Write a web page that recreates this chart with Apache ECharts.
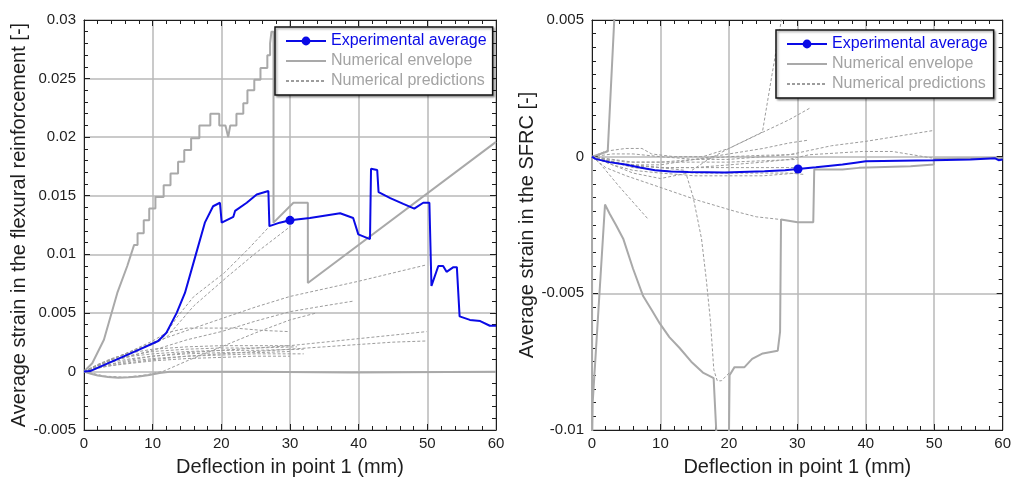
<!DOCTYPE html>
<html><head><meta charset="utf-8">
<script src="https://cdn.jsdelivr.net/npm/echarts@6/dist/echarts.min.js"></script>
<style>html,body{margin:0;padding:0;background:#fff}#c{width:1014px;height:482px}</style>
</head><body><div id="c"></div>
<script>
// ---------- Left panel: strain in flexural reinforcement ----------
const leftExp = [[0,0],[0.9,0.00003],[4.3,0.0009],[8.2,0.0019],[10.8,0.0026],[12,0.0033],[13.5,0.005],[14.7,0.0067],[16.2,0.0098],[17.6,0.0127],[18.8,0.0141],[19.8,0.0144],[20.05,0.0127],[21.75,0.0132],[22,0.0137],[23.7,0.0144],[25.15,0.0151],[26.85,0.0154],[27,0.0124],[28.5,0.0127],[30,0.0129],[32.9,0.0131],[37.3,0.0135],[39.2,0.0131],[39.95,0.0117],[41.65,0.0113],[41.8,0.0173],[42.7,0.0172],[42.9,0.0153],[44.6,0.0148],[46.5,0.0143],[48.1,0.0139],[49.4,0.0144],[50.3,0.0144],[50.6,0.0073],[51.6,0.009],[52.3,0.009],[52.8,0.0085],[53.8,0.0089],[54.3,0.0089],[54.7,0.0047],[56.2,0.0044],[57.7,0.0043],[59.1,0.0039],[60,0.0039]];
const leftEnvUpper = [[0,0],[1.2,0.0007],[2.9,0.0027],[4.85,0.0067],[6.3,0.009],[7.3,0.0108],[7.8,0.0108],[7.8,0.0118],[8.7,0.0118],[8.7,0.0129],[9.5,0.0129],[9.5,0.0139],[10.4,0.0139],[10.4,0.0149],[11.6,0.0149],[11.6,0.0159],[12.6,0.0159],[12.6,0.0169],[13.7,0.0169],[13.7,0.0179],[14.6,0.0179],[14.6,0.0189],[15.6,0.0189],[15.6,0.0199],[16.8,0.0199],[16.8,0.021],[18.4,0.021],[18.4,0.022],[19.7,0.022],[19.7,0.021],[20.6,0.021],[21.0,0.0200],[21.3,0.021],[22.2,0.021],[22.2,0.022],[23.2,0.022],[23.2,0.0229],[23.8,0.0229],[23.8,0.024],[24.8,0.024],[24.8,0.0249],[25.7,0.0249],[25.7,0.0259],[26.7,0.0259],[26.7,0.027],[27.1,0.027],[27.1,0.028],[27.3,0.028],[27.3,0.029],[27.6,0.029],[27.6,0.0127],[30.5,0.0144],[32.6,0.0144],[32.6,0.00755],[60,0.0196]];
const leftEnvLower = [[0,0],[1,-0.0002],[2,-0.00035],[3.5,-0.00048],[5,-0.00053],[6.5,-0.0005],[8,-0.00043],[9.5,-0.0003],[11,-0.00013],[12.5,-0.00003],[24.7,-0.00003],[24.7,-0.0001],[39,-0.0001],[39,-0.00002],[60,-0.00002]];
const leftPredA = [[0,0],[3,0.0008],[6,0.0015],[10,0.0024],[11.7,0.003],[13.5,0.0046],[16,0.0064],[20.4,0.0084],[24,0.0105],[27.2,0.0125]];
const leftPredB = [[0,0],[3,0.0008],[6,0.0015],[10,0.0023],[12,0.0029],[16,0.0056],[20.9,0.0081],[25,0.0101],[30.1,0.0124]];
const leftPredC = [[0,0],[3,0.0008],[6,0.0015],[10.2,0.0025],[15,0.0035],[20,0.0045],[25,0.0055],[30,0.0064],[40,0.0077],[49.9,0.0091]];
const leftPredD = [[0,0],[3,0.0008],[6,0.0015],[10,0.0026],[12,0.0033],[15,0.0037],[22,0.0037],[26,0.0035],[29.8,0.0034]];
const leftPredE = [[0,0],[3,0.0007],[6,0.0012],[10,0.0018],[15,0.0027],[20,0.0034],[25,0.0043],[30,0.0051],[35,0.0056],[39.2,0.006]];
const leftPredH = [[0,0],[3,-0.0004],[6,-0.0005],[9,-0.0003],[11.5,0],[15,0.0009],[20,0.0021],[25,0.0033],[30,0.0044],[33.9,0.005]];
const leftPredF = [[0,0],[3,0.0005],[6,0.0009],[10,0.0013],[15,0.0016],[20,0.0018],[25,0.002],[30,0.0022],[35,0.0025],[40,0.0028],[45,0.0031],[49.9,0.0034]];
const leftPredG = [[0,0],[3,0.0004],[6,0.0007],[10,0.001],[15,0.0013],[20,0.0015],[25,0.0017],[30,0.0019],[35,0.0021],[40,0.0023],[45,0.0025],[49.9,0.0026]];
const leftPredL1 = [[0,0],[2,0.0006],[4,0.0011],[7,0.0016],[10,0.0019],[15,0.0021],[20,0.0022],[25,0.0022],[30,0.0022]];
const leftPredL2 = [[0,0],[2,0.0005],[4,0.001],[7,0.0014],[10,0.0017],[15,0.0019],[20,0.002],[25,0.002],[31,0.0021]];
const leftPredL3 = [[0,0],[2,0.0005],[4,0.0009],[7,0.0013],[10,0.0015],[15,0.0017],[20,0.0018],[25,0.0018],[32,0.0019]];
const leftPredL4 = [[0,0],[2,0.0004],[4,0.0008],[7,0.0011],[10,0.0013],[15,0.0015],[20,0.0016],[25,0.0016],[30,0.0017]];
const leftPredL5 = [[0,0],[2,0.0003],[4,0.0006],[7,0.0009],[10,0.0011],[15,0.0013],[20,0.0014],[25,0.0015],[32,0.0015]];
const leftPredL6 = [[0,0],[2,0.0003],[4,0.0005],[7,0.0007],[10,0.0009],[15,0.0011],[20,0.0012],[25,0.0013],[30,0.0013]];

// ---------- Right panel: strain in SFRC ----------
const rightExp = [[0,0],[0.5,-0.00008],[2.5,-0.0002],[4.85,-0.00029],[7,-0.0004],[9.2,-0.0005],[11.5,-0.00054],[14.1,-0.00056],[19.4,-0.00058],[25.2,-0.00053],[28.2,-0.0005],[30.1,-0.00045],[32.7,-0.00039],[34.5,-0.00034],[36.6,-0.00029],[38.5,-0.00022],[40,-0.00017],[45,-0.00015],[49.9,-0.00013],[55.3,-0.0001],[55.5,-0.00006],[58.9,-0.00006],[59.4,-0.00013],[60,-0.0001]];
const rightEnvUpper = [[0,0],[1,0.00008],[2.3,0.0002],[3.35,0.0055]];
const rightEnvLowerA = [[0,0],[0.02,-0.0105],[0.1,-0.009],[1.9,-0.00175],[2.6,-0.0021],[3.5,-0.0025],[4.56,-0.003],[6,-0.0041],[7.47,-0.0051],[8.7,-0.0056],[9.9,-0.0061],[11.3,-0.0066],[12.8,-0.007],[14.5,-0.0075],[16.2,-0.0079],[17.0,-0.008],[17.77,-0.0081],[18.25,-0.0105]];
const rightEnvLowerB = [[20,-0.0105],[20.1,-0.008],[20.82,-0.0077],[22.28,-0.0077],[23.4,-0.0074],[24.95,-0.0072],[27.14,-0.0071],[27.48,-0.0064],[27.62,-0.0023],[30.04,-0.0024],[32.33,-0.0024],[32.47,-0.00047],[36.6,-0.00047],[36.6,-0.00044],[39,-0.00041],[46.55,-0.00035],[49.95,-0.00029],[49.95,-0.00008],[60,-0.00005]];
const rightPred1 = [[0,0],[2,0.0002],[4.9,0.0003],[7.3,0.0003],[8.7,0.0001],[12,0],[16.2,0],[20,0.0003],[24.9,0.0009],[26.3,0.003],[27.6,0.0049],[27.8,0.0053]];
const rightPred2 = [[0,0],[3,-0.0003],[6,-0.0006],[10,-0.0008],[14,-0.0006],[17,-0.0001],[20,0.0003],[25,0.0009],[28.8,0.00135],[32,0.0018]];
const rightPred3 = [[0,0],[5,-0.0002],[10,-0.0002],[15,-0.0001],[20,0],[25,0.00005],[28.8,0.00007],[35,0.0004],[40,0.00056],[49.7,0.00095]];
const rightPred4 = [[0,0],[5,-0.0003],[10,-0.0003],[15,-0.0001],[20,0.0001],[25,0.0003],[28.8,0.0005],[31.5,0.0006]];
const rightPred5 = [[0,0],[5,-0.0003],[10,-0.0004],[15,-0.0004],[20,-0.0003],[25,-0.0002],[28.8,-0.0001],[31.7,0.00007],[39.5,0.00019],[43.9,0.00019],[49.7,-0.00005]];
const rightPred6 = [[0,0],[1,-0.0002],[4,-0.0011],[8.25,-0.0023]];
const rightPred7 = [[0,0],[5,-0.0003],[10,-0.0004],[13.6,-0.0005],[14.8,-0.0015],[16,-0.003],[16.7,-0.0045],[17.3,-0.006],[17.8,-0.0078],[18.3,-0.0082],[18.9,-0.0082],[20.1,-0.0079]];
const rightPred8 = [[0,0],[2,-0.0004],[5,-0.0007],[9.7,-0.0011],[15.5,-0.0016],[20.9,-0.002],[24,-0.0022],[27.6,-0.0023]];
const rightPred9 = [[0,0],[3,-0.0002],[6,-0.0003],[10,-0.0004],[15,-0.0004],[20,-0.0004],[25,-0.0004],[30,-0.0004]];
const rightPred10 = [[0,0],[3,-0.0002],[6,-0.0004],[10,-0.0005],[15,-0.0006],[20,-0.0006],[25,-0.0006],[28.8,-0.0006],[31,-0.00065]];
const rightPred11 = [[0,0],[3,-0.0001],[6,-0.0002],[10,-0.0002],[15,-0.0002],[20,-0.0002],[25,-0.00015],[30,-0.0001]];
const rightPred12 = [[0,0],[3,-0.0003],[6,-0.0005],[10,-0.0006],[15,-0.0007],[20,-0.0007],[25,-0.0007],[30,-0.0006]];
const rightPred13 = [[0,0],[3,0.0001],[6,0.0001],[10,0],[15,-0.0001],[20,-0.0001],[25,0],[30,0.0001]];

const markerX = 30;
const xName = 'Deflection in point 1 (mm)';
const yNameLeft = 'Average strain in the flexural reinforcement [-]';
const yNameRight = 'Average strain in the SFRC [-]';
const names = ['Experimental average', 'Numerical envelope', 'Numerical predictions'];

const leftPreds = [leftPredA,leftPredB,leftPredC,leftPredD,leftPredE,leftPredH,leftPredF,leftPredG,leftPredL1,leftPredL2,leftPredL3,leftPredL4,leftPredL5,leftPredL6];
const rightPreds = [rightPred1,rightPred2,rightPred3,rightPred4,rightPred5,rightPred6,rightPred7,rightPred8,rightPred9,rightPred10,rightPred11,rightPred12,rightPred13];

const BLUE = '#0a0ae6', ENV = '#a9a9a9', PRED = '#9c9c9c', INK = '#1e1e1e', GRIDC = '#b9b9b9';
const FONT = '"Liberation Sans", Arial, sans-serif';

function xAxes(gi) {
  return [
    { gridIndex: gi, type: 'value', min: 0, max: 60, interval: 10, position: 'bottom',
      name: xName, nameLocation: 'middle', nameGap: 27,
      nameTextStyle: { fontSize: 20, color: INK, fontFamily: FONT },
      axisLine: { show: true, onZero: false, lineStyle: { color: INK, width: 1 } },
      axisTick: { inside: true, length: 6, lineStyle: { color: INK } },
      minorTick: { show: true, splitNumber: 5, length: 4, lineStyle: { color: INK } },
      axisLabel: { fontSize: 15, color: INK, fontFamily: FONT, margin: 6 },
      splitLine: { show: true, lineStyle: { color: GRIDC, width: 1.5 } } },
    { gridIndex: gi, type: 'value', min: 0, max: 60, interval: 10, position: 'top',
      axisLine: { show: true, onZero: false, lineStyle: { color: INK, width: 1 } },
      axisTick: { inside: true, length: 6, lineStyle: { color: INK } },
      minorTick: { show: true, splitNumber: 5, length: 4, lineStyle: { color: INK } },
      axisLabel: { show: false }, splitLine: { show: false } }
  ];
}
function yAxes(gi, min, max, interval, minorSplit, name, gap) {
  return [
    { gridIndex: gi, type: 'value', min, max, interval, position: 'left',
      name, nameLocation: 'middle', nameGap: gap,
      nameTextStyle: { fontSize: 20, color: INK, fontFamily: FONT },
      axisLine: { show: true, onZero: false, lineStyle: { color: INK, width: 1 } },
      axisTick: { inside: true, length: 6, lineStyle: { color: INK } },
      minorTick: { show: true, splitNumber: minorSplit, length: 4, lineStyle: { color: INK } },
      axisLabel: { fontSize: 15, color: INK, fontFamily: FONT, margin: 8,
        formatter: v => String(+v.toFixed(4)) },
      splitLine: { show: true, lineStyle: { color: GRIDC, width: 1.5 } } },
    { gridIndex: gi, type: 'value', min, max, interval, position: 'right',
      axisLine: { show: true, onZero: false, lineStyle: { color: INK, width: 1 } },
      axisTick: { inside: true, length: 6, lineStyle: { color: INK } },
      minorTick: { show: true, splitNumber: minorSplit, length: 4, lineStyle: { color: INK } },
      axisLabel: { show: false }, splitLine: { show: false } }
  ];
}

function predSeries(data, xi, yi) {
  return { name: names[2], type: 'line', xAxisIndex: xi, yAxisIndex: yi, data, symbol: 'none',
    lineStyle: { color: PRED, width: 1, type: [3, 2] }, itemStyle: { color: PRED }, z: 2, silent: true };
}
function envSeries(data, xi, yi) {
  return { name: names[1], type: 'line', xAxisIndex: xi, yAxisIndex: yi, data, symbol: 'none',
    lineStyle: { color: ENV, width: 2 }, itemStyle: { color: ENV }, z: 3, silent: true };
}
function expSeries(data, xi, yi) {
  const mi = data.findIndex(p => Math.abs(p[0] - markerX) < 0.2);
  return { name: names[0], type: 'line', xAxisIndex: xi, yAxisIndex: yi, data, symbol: 'circle',
    symbolSize: (v, p) => p.dataIndex === mi ? 9 : 0, showSymbol: true,
    lineStyle: { color: BLUE, width: 2 }, itemStyle: { color: BLUE }, z: 4, silent: true };
}

function legendAt(left, top) {
  return { orient: 'vertical', left, top, itemWidth: 40, itemHeight: 11, itemGap: 4,
    padding: [6, 6, 6, 10], borderColor: '#111', borderWidth: 1.5, backgroundColor: '#fff',
    shadowColor: 'rgba(0,0,0,0.35)', shadowBlur: 2, shadowOffsetX: 1.5, shadowOffsetY: 1.5,
    selectedMode: false,
    textStyle: { fontSize: 16, fontFamily: FONT },
    data: [
      { name: names[0], textStyle: { color: BLUE } },
      { name: names[1], textStyle: { color: '#a3a3a3' }, itemStyle: { opacity: 0, borderWidth: 0 } },
      { name: names[2], textStyle: { color: '#a3a3a3' }, itemStyle: { opacity: 0, borderWidth: 0 } }
    ] };
}

const series = [];
leftPreds.forEach(d => series.push(predSeries(d, 0, 0)));
series.push(envSeries(leftEnvUpper, 0, 0));
series.push(envSeries(leftEnvLower, 0, 0));
series.push(expSeries(leftExp, 0, 0));
rightPreds.forEach(d => series.push(predSeries(d, 2, 2)));
series.push(envSeries(rightEnvUpper, 2, 2));
series.push(envSeries(rightEnvLowerA, 2, 2));
series.push(envSeries(rightEnvLowerB, 2, 2));
series.push(expSeries(rightExp, 2, 2));

const chart = echarts.init(document.getElementById('c'), null, { renderer: 'canvas' });
chart.setOption({
  animation: false,
  backgroundColor: '#fff',
  grid: [
    { left: 84, top: 20, width: 412, height: 412 },
    { left: 592, top: 20, width: 412, height: 412 }
  ],
  xAxis: [...xAxes(0), ...xAxes(1)],
  yAxis: [...yAxes(0, -0.005, 0.03, 0.005, 5, yNameLeft, 52), ...yAxes(1, -0.01, 0.005, 0.005, 10, yNameRight, 54)],
  legend: [legendAt(275, 27), legendAt(776, 30)],
  series
});
</script></body></html>
